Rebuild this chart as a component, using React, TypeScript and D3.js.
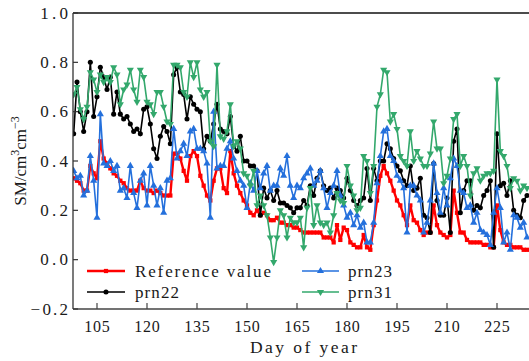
import React from "react";
import * as d3 from "d3";

const DAY_START = 98;

const refValue = [
  0.33, 0.32, 0.31, 0.28, 0.28, 0.38, 0.35, 0.33, 0.48, 0.41, 0.39, 0.37, 0.35, 0.34, 0.32, 0.31, 0.29, 0.28, 0.28, 0.28,
  0.32, 0.29, 0.28, 0.28, 0.27, 0.28, 0.27, 0.26, 0.26, 0.26, 0.43, 0.43, 0.41, 0.36, 0.32, 0.42, 0.44, 0.42, 0.34, 0.30,
  0.26, 0.24, 0.32, 0.37, 0.37, 0.29, 0.27, 0.44, 0.35, 0.30, 0.27, 0.24, 0.22, 0.19, 0.18, 0.20, 0.18, 0.19, 0.18, 0.16,
  0.16, 0.17, 0.15, 0.15, 0.14, 0.14, 0.13, 0.13, 0.12, 0.11, 0.11, 0.11, 0.11, 0.11, 0.11, 0.09, 0.09, 0.09, 0.07, 0.14,
  0.08, 0.13, 0.12, 0.07, 0.06, 0.05, 0.05, 0.10, 0.05, 0.04, 0.14, 0.24, 0.34, 0.38, 0.35, 0.32, 0.28, 0.24, 0.22, 0.18,
  0.14, 0.22, 0.16, 0.15, 0.12, 0.10, 0.11, 0.11, 0.22, 0.14, 0.11, 0.10, 0.09, 0.10, 0.28, 0.19, 0.11, 0.11, 0.08, 0.07,
  0.07, 0.07, 0.07, 0.06, 0.06, 0.05, 0.05, 0.22, 0.12, 0.07, 0.06, 0.06, 0.05, 0.05, 0.05, 0.04, 0.04,
];

const prn22 = [
  0.51, 0.72, 0.60, 0.52, 0.60, 0.80, 0.58, 0.66, 0.78, 0.74, 0.69, 0.74, 0.59, 0.68, 0.59, 0.57, 0.58, 0.55, 0.52, 0.53,
  0.51, 0.61, 0.62, 0.55, 0.45, 0.41, 0.50, 0.54, 0.52, 0.47, 0.75, 0.78, 0.68, 0.67, 0.57, 0.66, 0.63, 0.61, 0.60, 0.45,
  0.50, 0.48, 0.55, 0.63, 0.53, 0.52, 0.51, 0.58, 0.46, 0.44, 0.50, 0.40, 0.40, 0.38, 0.38, 0.36, 0.18, 0.29, 0.25, 0.28,
  0.24, 0.28, 0.23, 0.23, 0.22, 0.21, 0.19, 0.21, 0.21, 0.24, 0.22, 0.30, 0.26, 0.33, 0.36, 0.30, 0.28, 0.29, 0.25, 0.29,
  0.28, 0.25, 0.33, 0.28, 0.24, 0.22, 0.24, 0.25, 0.37, 0.24, 0.37, 0.32, 0.40, 0.40, 0.47, 0.45, 0.41, 0.38, 0.36, 0.32,
  0.30, 0.38, 0.28, 0.29, 0.33, 0.18, 0.17, 0.11, 0.39, 0.24, 0.18, 0.18, 0.25, 0.11, 0.48, 0.53, 0.19, 0.28, 0.32, 0.32,
  0.20, 0.22, 0.21, 0.26, 0.28, 0.32, 0.05, 0.51, 0.30, 0.31, 0.26, 0.32, 0.20, 0.18, 0.17, 0.24, 0.26,
];

const prn23 = [
  0.36, 0.33, 0.34, 0.26, 0.28, 0.42, 0.32, 0.17, 0.59, 0.39, 0.38, 0.40, 0.36, 0.38, 0.28, 0.29, 0.25, 0.38, 0.27, 0.21,
  0.32, 0.35, 0.22, 0.38, 0.30, 0.22, 0.29, 0.19, 0.32, 0.33, 0.53, 0.41, 0.44, 0.47, 0.42, 0.52, 0.53, 0.45, 0.45, 0.44,
  0.39, 0.17, 0.60, 0.37, 0.38, 0.38, 0.45, 0.48, 0.41, 0.36, 0.32, 0.30, 0.21, 0.31, 0.28, 0.36, 0.29, 0.35, 0.38, 0.28,
  0.30, 0.30, 0.37, 0.34, 0.42, 0.30, 0.25, 0.30, 0.29, 0.33, 0.35, 0.37, 0.30, 0.32, 0.36, 0.29, 0.21, 0.27, 0.30, 0.36,
  0.26, 0.22, 0.17, 0.19, 0.14, 0.18, 0.13, 0.15, 0.07, 0.07, 0.15, 0.31, 0.42, 0.52, 0.53, 0.42, 0.40, 0.34, 0.32, 0.29,
  0.11, 0.30, 0.30, 0.26, 0.24, 0.11, 0.15, 0.24, 0.39, 0.27, 0.19, 0.29, 0.22, 0.33, 0.41, 0.38, 0.28, 0.27, 0.21, 0.22,
  0.15, 0.19, 0.12, 0.11, 0.10, 0.06, 0.19, 0.29, 0.21, 0.07, 0.11, 0.04, 0.18, 0.17, 0.13, 0.15, 0.09,
];

const prn31 = [
  0.67, 0.70, 0.61, 0.57, 0.62, 0.76, 0.73, 0.68, 0.75, 0.72, 0.74, 0.72, 0.78, 0.75, 0.63, 0.69, 0.71, 0.77, 0.69, 0.64,
  0.77, 0.74, 0.64, 0.63, 0.59, 0.68, 0.68, 0.62, 0.56, 0.55, 0.79, 0.79, 0.78, 0.68, 0.66, 0.80, 0.74, 0.80, 0.69, 0.66,
  0.68, 0.48, 0.46, 0.79, 0.50, 0.49, 0.52, 0.63, 0.46, 0.48, 0.45, 0.35, 0.34, 0.30, 0.36, 0.22, 0.26, 0.22, 0.18, 0.09,
  -0.01, 0.09, 0.20, 0.18, 0.09, 0.17, 0.15, 0.15, 0.17, 0.05, 0.21, 0.29, 0.14, 0.22, 0.15, 0.14, 0.15, 0.11, 0.18, 0.27,
  0.24, 0.23, 0.38, 0.30, 0.26, 0.20, 0.21, 0.42, 0.40, 0.27, 0.38, 0.62, 0.67, 0.77, 0.76, 0.56, 0.59, 0.53, 0.42, 0.40,
  0.38, 0.52, 0.40, 0.44, 0.41, 0.38, 0.38, 0.43, 0.56, 0.45, 0.45, 0.31, 0.34, 0.41, 0.57, 0.59, 0.38, 0.42, 0.38, 0.26,
  0.35, 0.37, 0.32, 0.34, 0.35, 0.35, 0.36, 0.73, 0.44, 0.42, 0.38, 0.29, 0.33, 0.32, 0.28, 0.30, 0.29,
];

const xTicks = [105, 120, 135, 150, 165, 180, 195, 210, 225];
const yTicks = [-0.2, 0.0, 0.2, 0.4, 0.6, 0.8, 1.0];
const seriesNames = ["Reference value", "prn22", "prn23", "prn31"];

const FONT = "'Liberation Serif', 'DejaVu Serif', serif";
const CHAR_W = 9.2; // monospaced-like advance of the original CJK font

type Series = {
  name: string;
  values: number[];
  color: string;
  width: number;
  symbol: d3.SymbolType;
  size: number;
  rotate: number;
};

export default function App() {
  const W = 529;
  const H = 361;
  const left = 73;
  const right = 528;
  const top = 13;
  const bottom = 309;

  const x = d3.scaleLinear().domain([97.8, 234.3]).range([left, right]);
  const y = d3.scaleLinear().domain([-0.2, 1.0]).range([bottom, top]);

  const series: Series[] = [
    { name: seriesNames[0], values: refValue, color: "#ff0000", width: 2.4, symbol: d3.symbolSquare, size: 18, rotate: 0 },
    { name: seriesNames[1], values: prn22, color: "#000000", width: 1.6, symbol: d3.symbolCircle, size: 20, rotate: 0 },
    { name: seriesNames[2], values: prn23, color: "#2470dc", width: 1.6, symbol: d3.symbolTriangle, size: 22, rotate: 0 },
    { name: seriesNames[3], values: prn31, color: "#33a86c", width: 1.6, symbol: d3.symbolTriangle, size: 22, rotate: 180 },
  ];

  const line = d3
    .line<number>()
    .x((_, i) => x(DAY_START + i))
    .y((v) => y(v));

  const legendPos = [
    { lx1: 87, lx2: 125, tx: 135, ty: 277 },
    { lx1: 87, lx2: 125, tx: 135, ty: 298 },
    { lx1: 302, lx2: 339, tx: 348, ty: 277 },
    { lx1: 302, lx2: 339, tx: 348, ty: 298 },
  ];

  const textColor = "#1a1a1a";

  return (
    <svg
      width={W}
      height={H}
      style={{ position: "absolute", left: 0, top: 0, background: "#fff" }}
      fontFamily={FONT}
    >
      <rect x={0} y={0} width={W} height={H} fill="#fff" />
      <defs>
        <clipPath id="plotclip">
          <rect x={left} y={top} width={right - left + 1} height={bottom - top} />
        </clipPath>
      </defs>

      <g clipPath="url(#plotclip)">
        {series.map((s) => {
          const path = d3.symbol().type(s.symbol).size(s.size)() as string;
          return (
            <g key={s.name}>
              <path d={line(s.values) as string} fill="none" stroke={s.color} strokeWidth={s.width} strokeLinejoin="round" />
              {s.values.map((v, i) => (
                <path
                  key={i}
                  d={path}
                  fill={s.color}
                  transform={`translate(${x(DAY_START + i)},${y(v)}) rotate(${s.rotate})`}
                />
              ))}
            </g>
          );
        })}
      </g>

      {/* legend */}
      {series.map((s, k) => {
        const p = legendPos[k];
        const path = d3.symbol().type(s.symbol).size(s.size)() as string;
        const cy = p.ty - 6;
        return (
          <g key={"leg" + k}>
            <line x1={p.lx1} x2={p.lx2} y1={cy} y2={cy} stroke={s.color} strokeWidth={s.width} />
            <path d={path} fill={s.color} transform={`translate(${(p.lx1 + p.lx2) / 2},${cy}) rotate(${s.rotate})`} />
            <text
              x={p.tx}
              y={p.ty}
              fontSize={17}
              fill={textColor}
              textLength={s.name.length * CHAR_W - 2}
              lengthAdjust="spacing"
            >
              {s.name}
            </text>
          </g>
        );
      })}

      {/* spines */}
      <line x1={left} x2={W} y1={top} y2={top} stroke="#111" strokeWidth={1.3} />
      <line x1={left} x2={left} y1={top} y2={bottom} stroke="#333" strokeWidth={1.3} />
      <line x1={left} x2={W} y1={bottom} y2={bottom} stroke="#444" strokeWidth={1.5} />

      {/* y ticks */}
      {yTicks.map((t) => {
        const label = d3.format(".1f")(t).replace("-", "\u2212");
        return (
          <g key={"y" + t}>
            <line x1={left} x2={left + 5} y1={y(t)} y2={y(t)} stroke="#333" strokeWidth={1.2} />
            <text
              x={68}
              y={y(t) + 5.5}
              textAnchor="end"
              fontSize={17}
              fill={textColor}
              textLength={label.length * 9.6 - 1}
              lengthAdjust="spacing"
            >
              {label}
            </text>
          </g>
        );
      })}

      {/* x ticks */}
      {xTicks.map((t) => (
        <g key={"x" + t}>
          <line x1={x(t)} x2={x(t)} y1={bottom} y2={bottom - 6} stroke="#444" strokeWidth={1.2} />
          <text
            x={x(t)}
            y={332}
            textAnchor="middle"
            fontSize={16}
            fill={textColor}
            textLength={25.5}
            lengthAdjust="spacing"
          >
            {t}
          </text>
        </g>
      ))}

      <text
        x={(left + right) / 2 + 3}
        y={353}
        textAnchor="middle"
        fontSize={17.5}
        fill={textColor}
        textLength={107}
        lengthAdjust="spacing"
      >
        Day of year
      </text>

      <text transform={`translate(26,${(top + bottom) / 2}) rotate(-90)`} textAnchor="middle" fontSize={17} fill={textColor}>
        SM/cm
        <tspan baselineShift="super" fontSize={12}>3</tspan>
        cm
        <tspan baselineShift="super" fontSize={12}>−3</tspan>
      </text>
    </svg>
  );
}
